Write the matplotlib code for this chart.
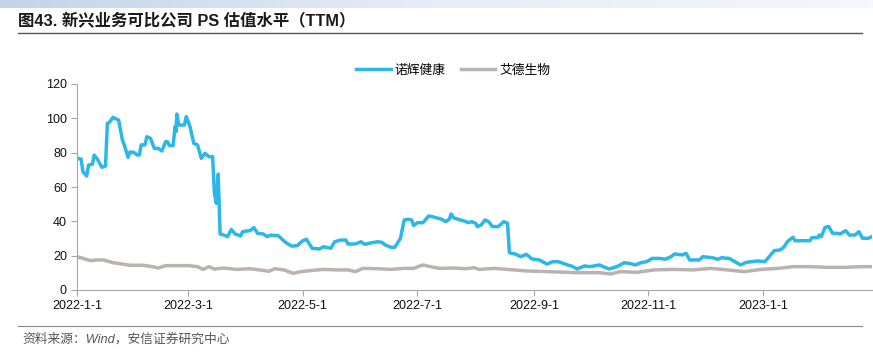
import numpy as np
import pandas as pd
import matplotlib
matplotlib.use("Agg")
import matplotlib.pyplot as plt
from matplotlib.colors import LinearSegmentedColormap

plt.rcParams['font.family'] = ['Liberation Sans', 'Noto Sans CJK SC', 'DejaVu Sans']

title = "图43. 新兴业务可比公司 PS 估值水平（TTM）"
source = "资料来源：Wind，安信证券研究中心"
series_names = ["诺辉健康", "艾德生物"]
start_date = "2022-01-01"
end_date = "2023-02-28"
tick_dates = ["2022-01-01", "2022-03-01", "2022-05-01", "2022-07-01",
              "2022-09-01", "2022-11-01", "2023-01-01"]
tick_labels = ["2022-1-1", "2022-3-1", "2022-5-1", "2022-7-1",
               "2022-9-1", "2022-11-1", "2023-1-1"]
yticks = [0, 20, 40, 60, 80, 100, 120]

# days since 2022-01-01 and PS values (诺辉健康)
nuohui_days = [0, 2, 3, 5, 6, 8, 9, 11, 13, 15,
               16, 17, 19, 20, 22, 24, 25, 27, 28, 30,
               32, 33, 34, 36, 37, 39, 40, 41, 43, 45,
               47, 48, 49, 51, 52, 52.5, 53, 54, 57, 58,
               60, 62, 64, 66, 68, 70, 72, 73, 74, 75,
               76, 78, 80, 82, 84, 87, 88, 92, 94, 96,
               99, 101, 103, 107, 111, 114, 117, 120, 122, 125,
               129, 131, 135, 137, 140, 143, 144, 148, 151, 153,
               157, 160, 162, 164, 167, 169, 172, 174, 176, 178,
               179, 181, 184, 187, 189, 192, 194, 196, 198, 199,
               200, 201, 204, 207, 208, 210, 212, 213, 215, 217,
               219, 221, 224, 227, 229, 230, 231, 233, 236, 239,
               242, 246, 250, 253, 256, 261, 263, 266, 270, 273,
               278, 280, 283, 286, 288, 291, 294, 297, 300, 303,
               306, 310, 313, 316, 318, 322, 324, 326, 331, 333,
               338, 341, 343, 347, 350, 353, 356, 362, 366, 369,
               371, 374, 376, 378, 379, 381, 382, 386, 390, 391,
               394, 395, 396, 398, 400, 402, 405, 406, 409, 411,
               414, 416, 418, 421, 423]
nuohui_ps = [76.7, 76.3, 68.9, 66.4, 72.8, 73.2, 78.6, 75.7, 71.5, 72.2,
             97.1, 97.5, 100.6, 100.0, 99.0, 87.4, 84.5, 77.3, 80.4, 80.2,
             78.6, 78.6, 84.5, 84.5, 89.3, 88.3, 85.4, 82.5, 82.5, 81.0,
             86.4, 86.4, 84.1, 84.1, 95.1, 92.2, 102.5, 96.1, 96.1, 101.0,
             95.1, 85.4, 84.5, 76.7, 79.6, 77.7, 77.7, 56.3, 50.5, 67.5,
             32.6, 32.0, 31.1, 35.3, 32.6, 31.5, 34.0, 34.6, 36.3, 33.0,
             32.6, 31.1, 32.0, 31.6, 27.6, 25.6, 25.8, 28.7, 29.5, 24.3,
             23.9, 25.2, 24.3, 28.1, 29.1, 29.1, 26.8, 26.8, 28.1, 26.6,
             27.6, 28.1, 27.8, 26.2, 24.9, 24.9, 30.1, 40.8, 41.2, 40.8,
             37.5, 39.2, 39.2, 43.1, 42.7, 41.8, 41.2, 39.8, 41.2, 44.3,
             42.3, 41.8, 40.8, 39.8, 39.2, 39.8, 38.9, 36.9, 37.9, 40.8,
             39.8, 36.9, 36.9, 39.8, 38.9, 21.7, 21.4, 21.0, 19.4, 20.8,
             18.1, 17.5, 15.1, 16.5, 16.5, 14.6, 14.0, 12.2, 14.0, 13.6,
             14.6, 13.6, 12.2, 13.2, 14.0, 15.9, 15.5, 14.6, 15.9, 16.5,
             18.4, 18.4, 17.9, 19.4, 21.0, 20.4, 21.4, 17.5, 17.5, 19.4,
             18.8, 17.9, 18.8, 18.4, 16.5, 14.6, 16.1, 16.9, 16.5, 20.4,
             22.9, 23.3, 24.9, 28.1, 29.1, 30.7, 28.7, 28.7, 28.7, 30.5,
             30.5, 32.0, 31.1, 36.5, 36.9, 33.0, 33.0, 32.6, 34.6, 32.0,
             32.0, 34.0, 30.1, 30.1, 31.1]

# days since 2022-01-01 and PS values (艾德生物)
aide_days = [0, 3, 7, 10, 14, 19, 24, 28, 35, 40,
             43, 47, 53, 59, 64, 67, 70, 73, 78, 85,
             92, 97, 102, 105, 110, 115, 119, 124, 131, 138,
             144, 148, 152, 160, 167, 174, 179, 184, 188, 193,
             200, 207, 211, 214, 222, 229, 239, 250, 266, 278,
             284, 289, 298, 307, 317, 328, 337, 346, 355, 364,
             373, 381, 390, 399, 408, 417, 423]
aide_ps = [19.4, 18.4, 17.1, 17.5, 17.5, 15.9, 15.1, 14.4, 14.4, 13.6,
           12.8, 14.2, 14.2, 14.2, 13.6, 12.0, 13.6, 12.2, 12.8, 12.0,
           12.4, 11.7, 10.9, 12.4, 11.7, 9.7, 10.7, 11.3, 12.0, 11.7,
           11.7, 10.7, 12.6, 12.4, 12.0, 12.6, 12.6, 14.6, 13.6, 12.6,
           12.8, 12.4, 13.0, 12.0, 12.6, 12.0, 11.1, 10.7, 10.1, 10.1,
           9.3, 10.7, 10.3, 11.7, 12.0, 11.7, 12.6, 11.7, 10.7, 12.0,
           12.6, 13.6, 13.6, 13.2, 13.2, 13.6, 13.6]

base = pd.Timestamp(start_date)
nuohui_x = base + pd.to_timedelta(nuohui_days, unit="D")
aide_x = base + pd.to_timedelta(aide_days, unit="D")

W, H = 873, 352
fig = plt.figure(figsize=(W / 100, H / 100), dpi=100)

# top banner gradient
bax = fig.add_axes([0, 1 - 8 / H, 1, 8 / H])
grad = np.linspace(0, 1, 256).reshape(1, -1)
cmap = LinearSegmentedColormap.from_list("b", ["#c3d3ea", "#e6edf7", "#f4f7fb"])
bax.imshow(grad, aspect="auto", cmap=cmap, extent=[0, 1, 0, 1])
bax.axis("off")

fig.text(18 / W, 1 - 21 / H, title, fontsize=11.8, fontweight="bold", color="#1a1a1a",
         va="center", ha="left", family=['Liberation Sans', 'Noto Sans CJK SC'])
fig.add_artist(plt.Line2D([18 / W, 862 / W], [1 - 33 / H, 1 - 33 / H], color="#555555", lw=1.0))
fig.add_artist(plt.Line2D([18 / W, 862 / W], [1 - 326 / H, 1 - 326 / H], color="#888888", lw=0.8))
fig.text(22 / W, 1 - 339 / H, source, fontsize=9.2, style="italic", color="#555555",
         va="center", ha="left", family=['Liberation Sans', 'Noto Sans CJK SC'])

ax = fig.add_axes([77.3 / W, 1 - 290 / H, (872 - 77.3) / W, (290 - 84) / H])
ax.plot(nuohui_x, nuohui_ps, color="#2bb7e8", lw=2.5, label=series_names[0],
        solid_joinstyle="round")
ax.plot(aide_x, aide_ps, color="#bab2b0", lw=2.5, label=series_names[1],
        solid_joinstyle="round")

ax.set_xlim(pd.Timestamp(start_date), pd.Timestamp(end_date))
ax.set_ylim(0, 120)
ax.set_yticks(yticks)
ax.set_xticks(pd.to_datetime(tick_dates))
ax.set_xticklabels(tick_labels)
for s in ["top", "right"]:
    ax.spines[s].set_visible(False)
for s in ["left", "bottom"]:
    ax.spines[s].set_color("#a6a6a6")
    ax.spines[s].set_linewidth(0.8)
ax.tick_params(axis="both", colors="#a6a6a6", labelcolor="#111111", labelsize=9,
               length=4, width=0.8, direction="out")
ax.tick_params(axis="x", pad=3)

leg = fig.legend(loc="center", bbox_to_anchor=(453 / W, 1 - 70 / H), ncol=2, frameon=False,
                 handlelength=2.7, columnspacing=1.2, handletextpad=0.3,
                 prop={'family': ['Noto Sans CJK SC'], 'size': 9.2})

fig.savefig("out.png", dpi=100)
